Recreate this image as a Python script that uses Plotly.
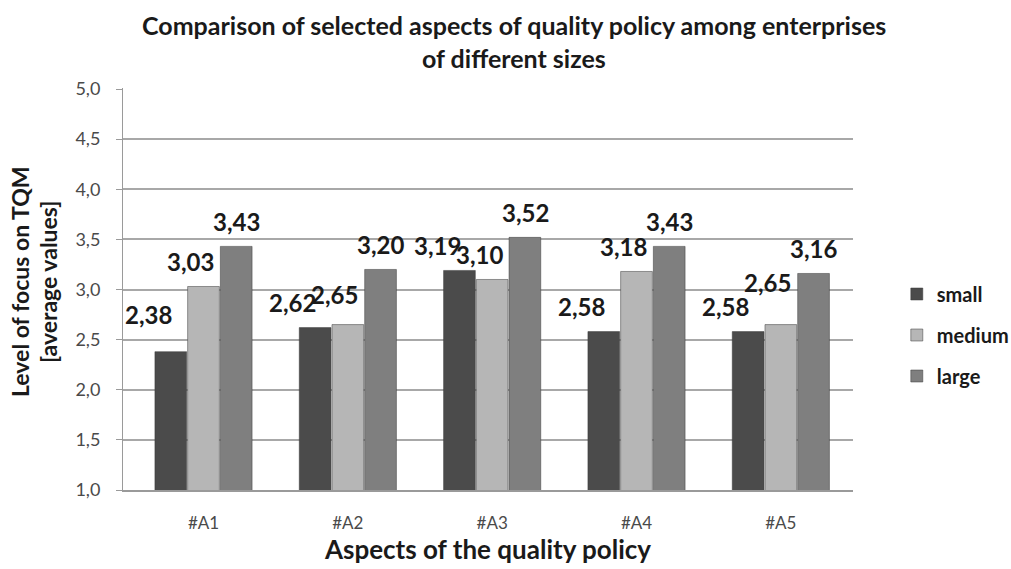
import plotly.graph_objects as go

aspects = ["#A1", "#A2", "#A3", "#A4", "#A5"]
small = [2.38, 2.62, 3.19, 2.58, 2.58]
medium = [3.03, 2.65, 3.10, 3.18, 2.65]
large = [3.43, 3.20, 3.52, 3.43, 3.16]

# name, values, fill colour, horizontal nudge of the value labels (px)
series = [
    ("small", small, "#4b4b4b", -22),
    ("medium", medium, "#b6b6b6", -13),
    ("large", large, "#7f7f7f", 0),
]
# extra vertical lift for a few labels that would otherwise collide
label_lift = {("small", "#A1"): 12, ("medium", "#A2"): 5, ("medium", "#A5"): 17}

FONT = "Lato"
INK = "#1a1a1a"
PLOT_L, PLOT_R, PLOT_T, PLOT_B = 123, 853, 88, 490
PW, PH = PLOT_R - PLOT_L, PLOT_B - PLOT_T


def px_x(px):
    return (px - PLOT_L) / PW


def px_y(py):
    return (PLOT_B - py) / PH


fig = go.Figure()
bar_w = 32  # approximate pixel width of each bar
for i, (name, vals, color, dx) in enumerate(series):
    fig.add_trace(go.Bar(
        x=aspects, y=vals, name=name, legendgroup=name,
        marker=dict(color=color, line=dict(color="#3a3a3a", width=0.5)),
    ))
    offset = (i - 1) * (bar_w + 1)
    for a, v in zip(aspects, vals):
        fig.add_annotation(
            x=a, y=v, xref="x", yref="y",
            text=f"{v:.2f}".replace(".", ","),
            showarrow=False, yanchor="middle",
            xshift=offset + dx, yshift=25 + label_lift.get((name, a), 0),
            font=dict(family=FONT, size=24, color=INK, weight="bold"),
        )

# chart title, two centred lines
for text, ypx in [("Comparison of selected aspects of quality policy among enterprises", 25),
                  ("of different sizes", 58)]:
    fig.add_annotation(
        x=px_x(514), y=px_y(ypx), xref="paper", yref="paper",
        text=text, showarrow=False, xanchor="center", yanchor="middle",
        font=dict(family=FONT, size=25, color=INK, weight="bold"),
    )

# two-line vertical axis title
for text, xpx in [("Level of focus on TQM", 20), ("[average values]", 48)]:
    fig.add_annotation(
        x=px_x(xpx), y=px_y(282), xref="paper", yref="paper",
        text=text, textangle=-90, showarrow=False,
        xanchor="center", yanchor="middle",
        font=dict(family=FONT, size=23, color=INK, weight="bold"),
    )

fig.update_layout(
    width=1011, height=569,
    margin=dict(l=PLOT_L, r=1011 - PLOT_R, t=PLOT_T, b=569 - PLOT_B, autoexpand=False),
    paper_bgcolor="white", plot_bgcolor="white",
    separators=",.",
    barmode="group", bargap=0.32, bargroupgap=0.03,
    legend=dict(
        x=1.06, y=px_y(335), xanchor="left", yanchor="middle",
        font=dict(family=FONT, size=20, color=INK, weight="bold"),
        itemwidth=30, tracegroupgap=12, traceorder="grouped",
    ),
    font=dict(family=FONT, color="#333333"),
)
fig.update_yaxes(
    range=[1, 5.01], dtick=0.5, tick0=1, tickformat=".1f",
    showgrid=True, gridcolor="#a8a8a8", gridwidth=2,
    showline=True, linecolor="#9a9a9a", linewidth=1,
    ticks="outside", ticklen=6, tickcolor="#9a9a9a",
    ticklabelstandoff=12,
    tickfont=dict(family=FONT, size=18, color="#4a4a4a"),
    zeroline=False,
)
fig.update_xaxes(
    showline=True, linecolor="#9a9a9a", linewidth=2,
    ticklabelstandoff=17,
    tickfont=dict(family=FONT, size=17, color="#4a4a4a"),
    title=dict(text="Aspects of the quality policy",
               font=dict(family=FONT, size=26, color=INK, weight="bold"),
               standoff=8),
)

fig.write_html("out.html")
